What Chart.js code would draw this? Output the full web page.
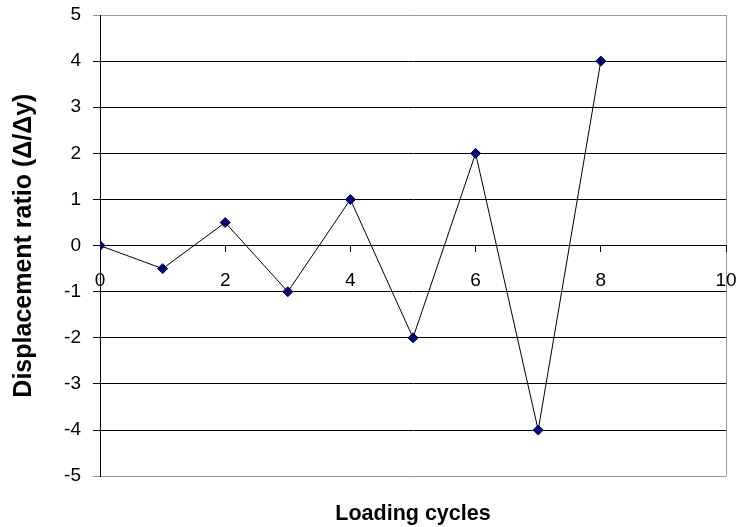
<!DOCTYPE html>
<html>
<head>
<meta charset="utf-8">
<script src="https://cdn.jsdelivr.net/npm/chart.js@4.4.1/dist/chart.umd.min.js"></script>
<style>
  html, body { margin: 0; padding: 0; background: #fff; }
  #wrap { width: 737px; height: 527px; }
</style>
</head>
<body>
<div id="wrap"><canvas id="cycleChart" width="737" height="527"></canvas></div>
<script>
// *****Data***** //
const cycles = [0, 1, 2, 3, 4, 5, 6, 7, 8];
const ratios = [0, -0.5, 0.5, -1, 1, -2, 2, -4, 4];
const xTicks = [0, 2, 4, 6, 8, 10];
const yTicks = [-5, -4, -3, -2, -1, 0, 1, 2, 3, 4, 5];

const FONT = "'Liberation Sans', Arial, sans-serif";

const points = cycles.map((c, i) => ({ x: c, y: ratios[i] }));

// drop the automatic label overflow padding so layout.padding sets the plot box
const noPad = s => { s.paddingLeft = 0; s.paddingRight = 0; s.paddingTop = 0; s.paddingBottom = 0; };

const el = document.getElementById('cycleChart');
if (el) {
    el.getContext('2d');
    const cycleChart = new Chart(el, {
        type: 'scatter',
        data: {
            datasets: [{
                label: 'Displacement ratio',
                data: points,
                showLine: true,
                borderColor: '#000',
                borderWidth: 1,
                pointStyle: 'rectRot',
                pointRadius: 5,
                pointBackgroundColor: '#000080',
                pointBorderColor: '#000033',
                pointBorderWidth: 1,
            }]
        },
        options: {
            responsive: false,
            animation: false,
            layout: { padding: { top: 15, right: 11, left: 0, bottom: 0 } },
            plugins: {
                legend: { display: false },
                tooltip: { enabled: false },
                title: {
                    display: true,
                    position: 'bottom',
                    fullSize: false,
                    text: 'Loading cycles',
                    color: '#000',
                    font: { family: FONT, size: 21.5, weight: 'bold' },
                    padding: { top: 25, bottom: 0 }
                }
            },
            scales: {
                x: {
                    type: 'linear',
                    position: { y: 0 },
                    min: 0,
                    max: 10,
                    afterBuildTicks: s => { s.ticks = xTicks.map(v => ({ value: v })); },
                    afterFit: noPad,
                    border: { display: true, color: '#000', width: 1 },
                    grid: {
                        drawOnChartArea: true,
                        color: c => (c.tick && c.tick.value === 10) ? '#999' : 'rgba(0,0,0,0)',
                        tickColor: '#000',
                        tickLength: 6
                    },
                    ticks: {
                        color: '#000',
                        padding: 18,
                        maxRotation: 0,
                        autoSkip: false,
                        font: { family: FONT, size: 19 }
                    }
                },
                y: {
                    type: 'linear',
                    position: 'left',
                    min: -5,
                    max: 5,
                    afterBuildTicks: s => { s.ticks = yTicks.map(v => ({ value: v })); },
                    afterFit: s => { s.width = 100; noPad(s); },
                    border: { display: true, color: '#000', width: 1 },
                    grid: {
                        color: c => (c.tick && (c.tick.value === 5 || c.tick.value === -5)) ? '#999' : '#000',
                        tickLength: 7
                    },
                    ticks: {
                        color: '#000',
                        padding: 12,
                        font: { family: FONT, size: 19 }
                    },
                    title: {
                        display: true,
                        text: 'Displacement ratio (Δ/Δy)',
                        color: '#000',
                        font: { family: FONT, size: 25, weight: 'bold' },
                        padding: { top: 9, bottom: 0 }
                    }
                }
            }
        }
    });
}
</script>
</body>
</html>
